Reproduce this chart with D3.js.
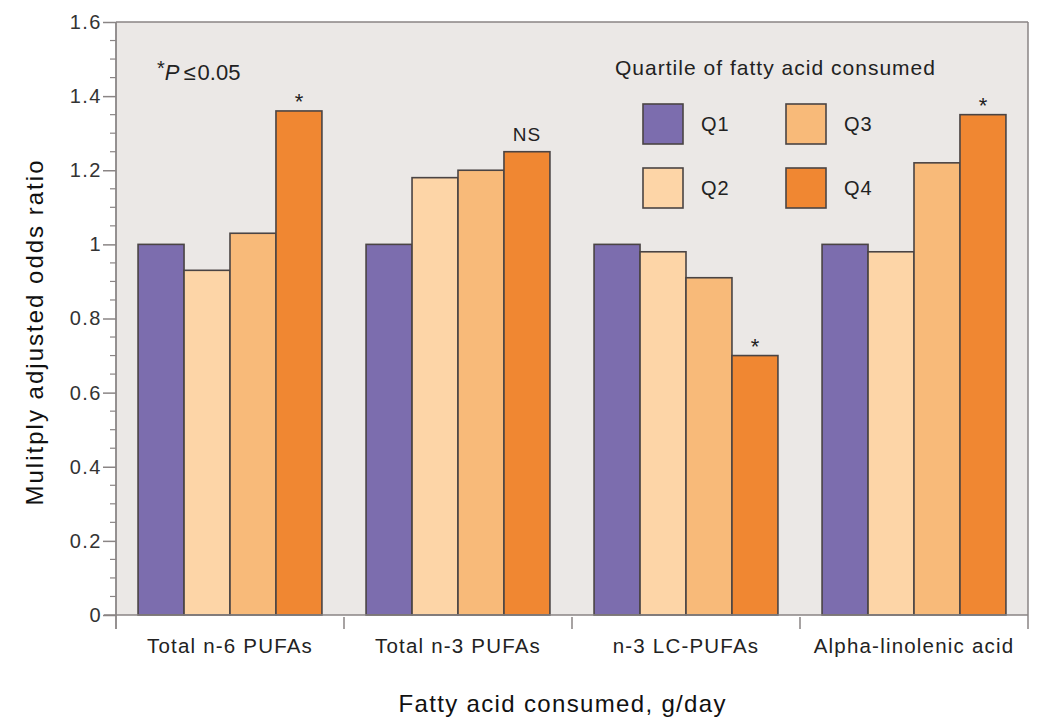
<!DOCTYPE html>
<html><head><meta charset="utf-8">
<script src="https://cdn.jsdelivr.net/npm/d3@7"></script>
<style>body{margin:0;background:#fff;} svg{display:block;font-family:"Liberation Sans",Arial,sans-serif;}</style>
</head><body>
<svg id="c" width="1037" height="721"></svg>
<script>
const categories = ["Total n-6 PUFAs","Total n-3 PUFAs","n-3 LC-PUFAs","Alpha-linolenic acid"];
const quartiles = ["Q1","Q2","Q3","Q4"];
const q1 = [1.00, 1.00, 1.00, 1.00];
const q2 = [0.93, 1.18, 0.98, 0.98];
const q3 = [1.03, 1.20, 0.91, 1.22];
const q4 = [1.36, 1.25, 0.70, 1.35];
const q4Notes = ["*","NS","*","*"];
const yTicks = [0,0.2,0.4,0.6,0.8,1,1.2,1.4,1.6];
const yTickLabels = ["0","0.2","0.4","0.6","0.8","1","1.2","1.4","1.6"];
const colors = ["#7c6dae","#fdd5a7","#f8ba79","#f08732"];

const series = [q1,q2,q3,q4];
const svg = d3.select("#c");
const L=116, R=1028, T=22, B=615;
const x0 = d3.scaleBand().domain(categories).range([L,R]).paddingInner(0).paddingOuter(0);
const x1 = d3.scaleBand().domain(quartiles).range([0,x0.bandwidth()]).paddingInner(0).paddingOuter(0.48);
const y = d3.scaleLinear().domain([0,1.6]).range([B,T]);

// plot background
svg.append("rect").attr("x",L).attr("y",T).attr("width",R-L).attr("height",B-T).attr("fill","#ebe8e6");
svg.append("line").attr("x1",L).attr("x2",R).attr("y1",T).attr("y2",T).attr("stroke","#8a8585").attr("stroke-width",1.5);
svg.append("line").attr("x1",R).attr("x2",R).attr("y1",T).attr("y2",B+14).attr("stroke","#8a8585").attr("stroke-width",1.5);

// bars
categories.forEach((c,i)=>{
  const g = svg.append("g").attr("transform",`translate(${x0(c)},0)`);
  quartiles.forEach((q,j)=>{
    const v = series[j][i];
    g.append("rect").attr("x",x1(q)).attr("y",y(v)).attr("width",x1.bandwidth()).attr("height",y(0)-y(v))
      .attr("fill",colors[j]).attr("stroke","#4a4444").attr("stroke-width",1.6);
  });
  const star = q4Notes[i]==="*";
  g.append("text").attr("x",x1("Q4")+x1.bandwidth()/2).attr("y",y(q4[i])-(star?2:11))
    .attr("text-anchor","middle").attr("font-size",star?22:19).attr("letter-spacing",star?0:1).attr("fill","#222").text(q4Notes[i]);
});

// y axis
const yAxis = d3.axisLeft(y).tickValues(yTicks).tickFormat((d,i)=>yTickLabels[i]).tickSize(13).tickSizeOuter(0);
const ya = svg.append("g").attr("transform",`translate(${L},0)`).call(yAxis);
ya.select(".domain").remove();
ya.selectAll(".tick line").attr("stroke","#8a8585").attr("stroke-width",1.5);
ya.selectAll(".tick text").attr("font-size",20).attr("letter-spacing",1.5).attr("fill","#333").attr("x",-14);
const minor = d3.range(0.05,1.6,0.05).filter(v=>Math.abs(v*5-Math.round(v*5))>0.01);
svg.append("g").selectAll("line").data(minor).join("line")
  .attr("x1",L-6).attr("x2",L).attr("y1",d=>y(d)).attr("y2",d=>y(d)).attr("stroke","#8a8585").attr("stroke-width",1.2);
svg.append("line").attr("x1",L).attr("x2",L).attr("y1",T).attr("y2",B+14).attr("stroke","#8a8585").attr("stroke-width",1.8);

// x axis
svg.append("line").attr("x1",L-12).attr("x2",R).attr("y1",B).attr("y2",B).attr("stroke","#8a8585").attr("stroke-width",1.5);
const xa = svg.append("g").attr("transform",`translate(0,${B})`).call(d3.axisBottom(x0).tickSize(0));
xa.select(".domain").remove();
xa.selectAll(".tick text").attr("font-size",20.5).attr("letter-spacing",1.2).attr("fill","#222").attr("dy",0).attr("y",38);
svg.append("g").selectAll("line").data(categories.slice(1)).join("line")
  .attr("x1",d=>x0(d)).attr("x2",d=>x0(d)).attr("y1",B+2).attr("y2",B+14).attr("stroke","#8a8585").attr("stroke-width",1.5);

// titles
svg.append("text").attr("transform","translate(43,333) rotate(-90)").attr("text-anchor","middle")
  .attr("font-size",24).attr("fill","#111").attr("textLength",345).attr("lengthAdjust","spacing").text("Mulitply adjusted odds ratio");
svg.append("text").attr("x",562).attr("y",712).attr("text-anchor","middle")
  .attr("font-size",24).attr("fill","#111").attr("textLength",327).attr("lengthAdjust","spacing").text("Fatty acid consumed, g/day");

// p note
const pn = svg.append("text").attr("x",157).attr("y",80).attr("font-size",22).attr("fill","#222");
pn.append("tspan").attr("font-size",20).attr("dy",-5).text("*");
pn.append("tspan").attr("dy",5).attr("font-style","italic").text("P");
pn.append("tspan").attr("dx",4).text("≤");
pn.append("tspan").attr("dx",2).text("0.05");

// legend
svg.append("text").attr("x",615).attr("y",75).attr("font-size",21).attr("fill","#222")
  .attr("textLength",320).attr("lengthAdjust","spacing").text("Quartile of fatty acid consumed");
const legPos = [[643,104],[643,168],[786,104],[786,168]];
quartiles.forEach((q,j)=>{
  const [lx,ly]=legPos[j];
  svg.append("rect").attr("x",lx).attr("y",ly).attr("width",40).attr("height",40)
    .attr("fill",colors[j]).attr("stroke","#4a4444").attr("stroke-width",1.6);
  svg.append("text").attr("x",lx+58).attr("y",ly+27).attr("font-size",20).attr("letter-spacing",1).attr("fill","#222").text(q);
});
</script>
</body></html>
